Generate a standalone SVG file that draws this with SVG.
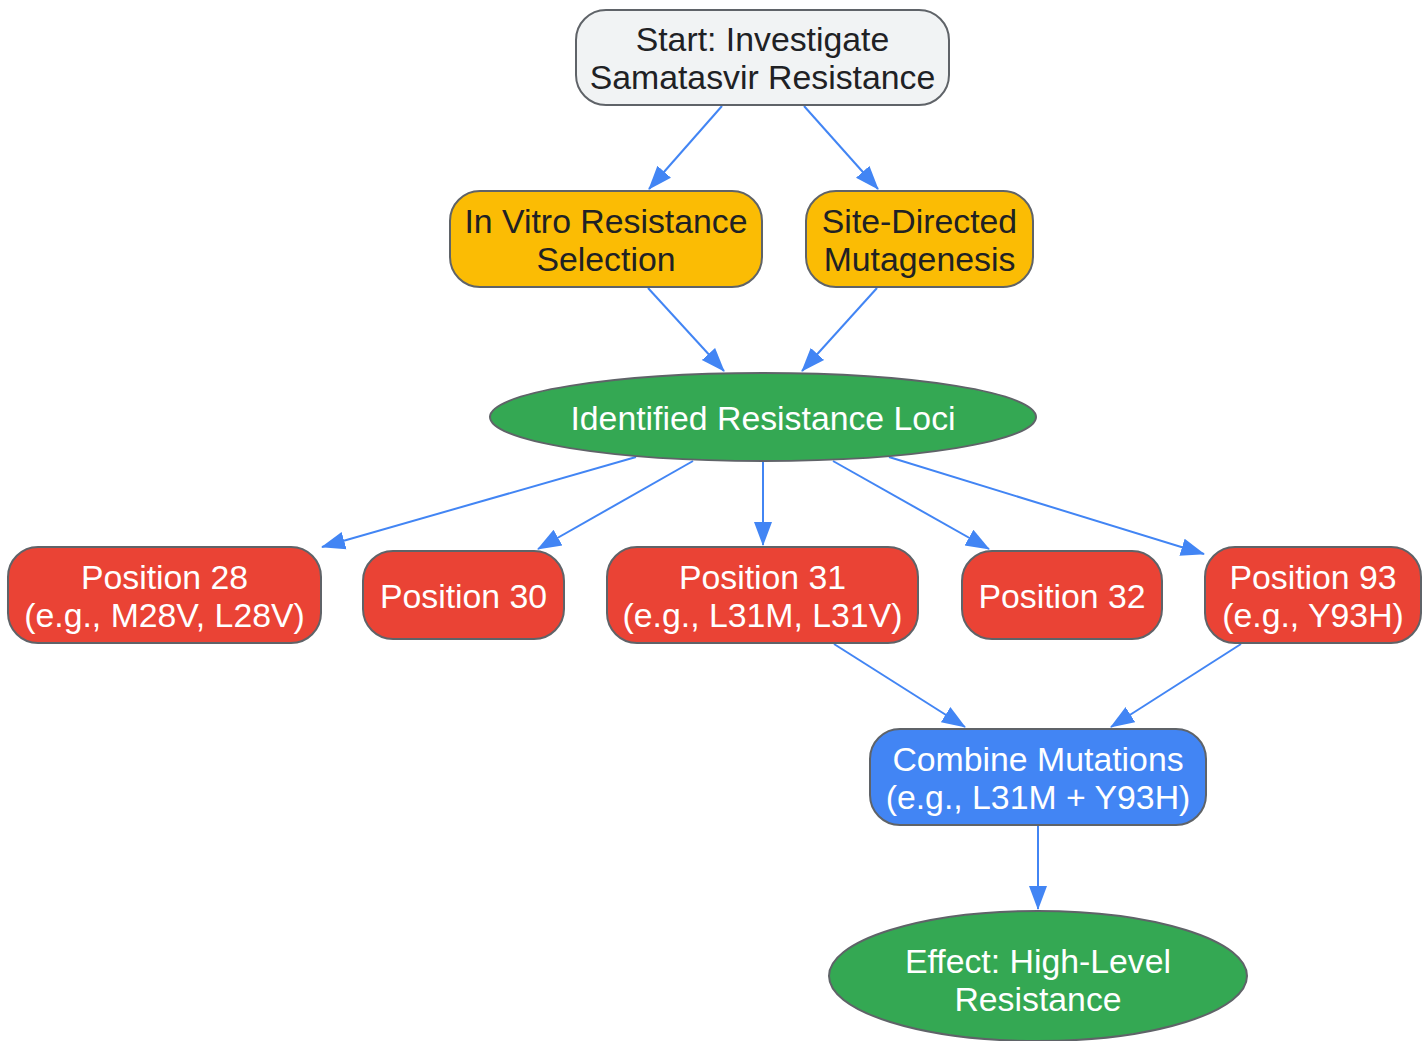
<svg xmlns="http://www.w3.org/2000/svg" width="1428" height="1041" viewBox="0 0 1428 1041">
<defs>
<marker id="ah" markerWidth="24" markerHeight="20" refX="23" refY="10" orient="auto" markerUnits="userSpaceOnUse">
<path d="M0,1 L24,10 L0,19 z" fill="#4285f4"/>
</marker>
<style>
.n{stroke:#5f6368;stroke-width:2}
.t{font-family:"Liberation Sans",Arial,sans-serif;font-size:33.8px;text-anchor:middle}
.dk{fill:#202124}
.wh{fill:#ffffff}
.e{stroke:#4285f4;stroke-width:2;fill:none;marker-end:url(#ah)}
</style>
</defs>
<rect width="1428" height="1041" fill="#ffffff"/>
<g id="edges">
<line class="e" x1="722" y1="106" x2="649" y2="189"/>
<line class="e" x1="804" y1="106" x2="878" y2="189"/>
<line class="e" x1="648" y1="288" x2="724" y2="371"/>
<line class="e" x1="877" y1="288" x2="802" y2="371"/>
<line class="e" x1="636" y1="457" x2="322" y2="547"/>
<line class="e" x1="693" y1="461" x2="538" y2="549"/>
<line class="e" x1="763" y1="461" x2="763" y2="545"/>
<line class="e" x1="833" y1="461" x2="989" y2="549"/>
<line class="e" x1="889" y1="457" x2="1204" y2="554"/>
<line class="e" x1="834" y1="644" x2="965" y2="727"/>
<line class="e" x1="1241" y1="644" x2="1111" y2="727"/>
<line class="e" x1="1038" y1="826" x2="1038" y2="909"/>
</g>
<g id="start">
<rect class="n" x="576" y="10" width="373" height="95" rx="30" fill="#f1f3f4"/>
<text class="t dk" x="762.5" y="51">Start: Investigate</text>
<text class="t dk" x="762.5" y="89">Samatasvir Resistance</text>
</g>
<g id="invitro">
<rect class="n" x="450" y="191" width="312" height="96" rx="30" fill="#fbbc04"/>
<text class="t dk" x="606" y="233">In Vitro Resistance</text>
<text class="t dk" x="606" y="271">Selection</text>
</g>
<g id="sdm">
<rect class="n" x="806" y="191" width="227" height="96" rx="30" fill="#fbbc04"/>
<text class="t dk" x="919.5" y="233">Site-Directed</text>
<text class="t dk" x="919.5" y="271">Mutagenesis</text>
</g>
<g id="loci">
<ellipse class="n" cx="763" cy="417" rx="273" ry="44" fill="#34a853"/>
<text class="t wh" x="763" y="430">Identified Resistance Loci</text>
</g>
<g id="p28">
<rect class="n" x="8" y="547" width="313" height="96" rx="30" fill="#ea4335"/>
<text class="t wh" x="164.5" y="589">Position 28</text>
<text class="t wh" x="164.5" y="627">(e.g., M28V, L28V)</text>
</g>
<g id="p30">
<rect class="n" x="363" y="551" width="201" height="88" rx="30" fill="#ea4335"/>
<text class="t wh" x="463.5" y="608">Position 30</text>
</g>
<g id="p31">
<rect class="n" x="607" y="547" width="311" height="96" rx="30" fill="#ea4335"/>
<text class="t wh" x="762.5" y="589">Position 31</text>
<text class="t wh" x="762.5" y="627">(e.g., L31M, L31V)</text>
</g>
<g id="p32">
<rect class="n" x="962" y="551" width="200" height="88" rx="30" fill="#ea4335"/>
<text class="t wh" x="1062" y="608">Position 32</text>
</g>
<g id="p93">
<rect class="n" x="1205" y="547" width="216" height="96" rx="30" fill="#ea4335"/>
<text class="t wh" x="1313" y="589">Position 93</text>
<text class="t wh" x="1313" y="627">(e.g., Y93H)</text>
</g>
<g id="combine">
<rect class="n" x="870" y="729" width="336" height="96" rx="30" fill="#4285f4"/>
<text class="t wh" x="1038" y="771">Combine Mutations</text>
<text class="t wh" x="1038" y="809">(e.g., L31M + Y93H)</text>
</g>
<g id="effect">
<ellipse class="n" cx="1038" cy="976" rx="209" ry="65" fill="#34a853"/>
<text class="t wh" x="1038" y="973">Effect: High-Level</text>
<text class="t wh" x="1038" y="1011">Resistance</text>
</g>
</svg>
